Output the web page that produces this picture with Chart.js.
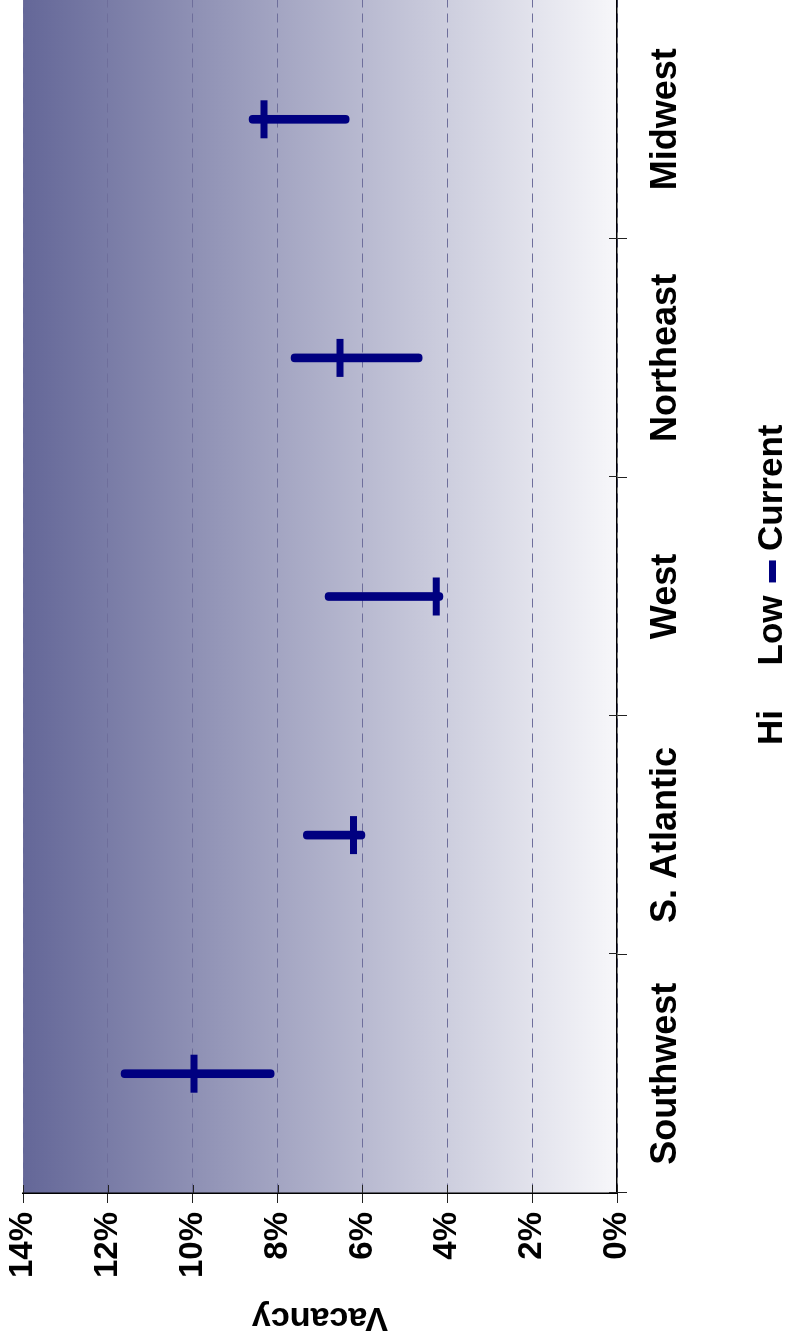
<!DOCTYPE html>
<html>
<head>
<meta charset="utf-8">
<script src="https://cdn.jsdelivr.net/npm/chart.js@4/dist/chart.umd.min.js"></script>
<style>
    html, body { margin: 0; padding: 0; background: #fff; overflow: hidden; }
    #wrap {
        position: absolute; left: 0; top: 0;
        width: 1338px; height: 800px;
        transform-origin: 0 0;
        transform: translateY(1338px) rotate(-90deg);
    }
</style>
</head>
<body>
<div id="wrap"><canvas id="chart" width="1338" height="800"></canvas></div>
<script>
// vacancy ranges by region (percent)
const categories = ["Southwest", "S. Atlantic", "West", "Northeast", "Midwest"];
const hiValues = [11.69, 7.39, 6.88, 7.68, 8.67];
const lowValues = [8.08, 5.94, 4.10, 4.59, 6.31];
const currentValues = [9.97, 6.21, 4.26, 6.53, 8.32];
const vacancyTicks = [0, 2, 4, 6, 8, 10, 12, 14];
const legendOrder = ["Hi", "Low", "Current"];

const navy = "#000080";
const family = "'Liberation Sans', Arial, sans-serif";

// legend marker for "Current": short dash sitting close to its text
const dash = document.createElement("canvas");
dash.width = 50;
dash.height = 7;
const dctx = dash.getContext("2d");
dctx.fillStyle = navy;
dctx.fillRect(14, 0, 22, 7);

const backdrop = {
    id: "backdrop",
    beforeDraw(chart) {
        const { ctx, chartArea: a } = chart;
        const g = ctx.createLinearGradient(0, a.top, 0, a.bottom);
        g.addColorStop(0, "rgb(100,103,152)");
        g.addColorStop(1, "rgb(247,247,250)");
        ctx.save();
        ctx.fillStyle = g;
        ctx.fillRect(a.left, a.top, a.right - a.left, a.bottom - a.top);
        ctx.restore();
    }
};

// small tick stubs on the inside of both axes
const innerTicks = {
    id: "innerTicks",
    afterDraw(chart) {
        const { ctx, chartArea: a, scales: { x, y } } = chart;
        ctx.save();
        ctx.strokeStyle = "#222";
        ctx.lineWidth = 1;
        ctx.beginPath();
        for (let i = 0; i <= categories.length; i++) {
            const px = Math.round(x.getPixelForValue(i - 0.5)) + 0.5;
            ctx.moveTo(px, a.bottom);
            ctx.lineTo(px, a.bottom - 8);
        }
        vacancyTicks.forEach(v => {
            const py = Math.round(y.getPixelForValue(v)) + 0.5;
            ctx.moveTo(a.left, py);
            ctx.lineTo(a.left + 8, py);
        });
        ctx.stroke();
        ctx.restore();
    }
};

new Chart(document.getElementById("chart").getContext("2d"), {
    type: "bar",
    data: {
        labels: categories,
        datasets: [
            {
                type: "line",
                label: "Current",
                data: currentValues,
                showLine: false,
                pointStyle: "line",
                pointRadius: 19,
                pointBorderWidth: 7,
                borderWidth: 7,
                borderColor: navy,
                backgroundColor: navy,
                pointBorderColor: navy
            },
            {
                label: "range",
                data: lowValues.map((lo, i) => [lo, hiValues[i]]),
                backgroundColor: navy,
                borderWidth: 0,
                barThickness: 8,
                borderRadius: 4,
                borderSkipped: false
            },
            {
                type: "line",
                label: "Hi",
                data: hiValues,
                showLine: false,
                pointRadius: 0,
                pointStyle: "line",
                borderColor: "rgba(0,0,0,0)",
                backgroundColor: "rgba(0,0,0,0)"
            },
            {
                type: "line",
                label: "Low",
                data: lowValues,
                showLine: false,
                pointRadius: 0,
                pointStyle: "line",
                borderColor: "rgba(0,0,0,0)",
                backgroundColor: "rgba(0,0,0,0)"
            }
        ]
    },
    options: {
        responsive: false,
        devicePixelRatio: 1,
        animation: false,
        layout: { autoPadding: false, padding: { top: 23, left: 0, right: 0, bottom: 0 } },
        plugins: {
            tooltip: { enabled: false },
            legend: {
                position: "bottom",
                fullSize: false,
                labels: {
                    font: { family: family, weight: "bold", size: 35 },
                    color: "#000",
                    usePointStyle: true,
                    pointStyleWidth: 6,
                    padding: 21,
                    generateLabels: chart => Chart.defaults.plugins.legend.labels.generateLabels(chart).map(item => {
                        if (item.text === "Current") item.pointStyle = dash;
                        return item;
                    }),
                    filter: item => item.text !== "range",
                    sort: (a, b) => legendOrder.indexOf(a.text) - legendOrder.indexOf(b.text)
                }
            }
        },
        scales: {
            x: {
                afterFit: s => { s.height = 117; },
                grid: { drawOnChartArea: false, drawTicks: true, tickLength: 10, tickColor: "#222", offset: true },
                border: { display: true, color: "#000", width: 1.5 },
                ticks: { font: { family: family, weight: "bold", size: 36 }, color: "#000", padding: 17, maxRotation: 0, autoSkip: false }
            },
            y: {
                min: 0,
                max: 14,
                afterFit: s => { s.width = 145; s.paddingTop = 0; s.paddingBottom = 0; },
                afterBuildTicks: s => { s.ticks = vacancyTicks.map(v => ({ value: v })); },
                grid: {
                    color: "rgb(110,110,155)",
                    lineWidth: 1,
                    tickLength: 10,
                    tickColor: "#222",
                    tickBorderDash: []
                },
                border: { display: true, color: "#000", width: 1.5, dash: [9, 6] },
                ticks: {
                    font: { family: family, weight: "bold", size: 33 },
                    color: "#000",
                    padding: 9,
                    callback: v => v + "%"
                },
                title: {
                    display: true,
                    text: "Vacancy",
                    font: { family: family, weight: "bold", size: 34 },
                    color: "#000",
                    padding: { top: 0, bottom: 8 }
                }
            }
        }
    },
    plugins: [backdrop, innerTicks]
});
</script>
</body>
</html>
